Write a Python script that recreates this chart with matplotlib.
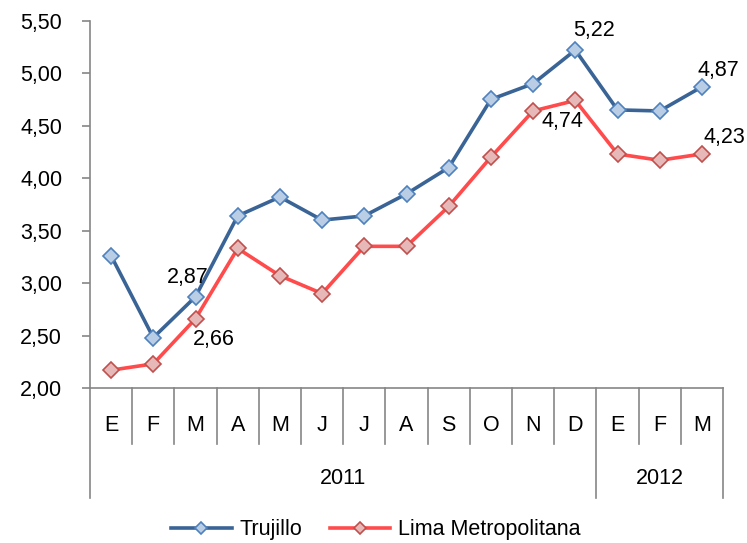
import matplotlib
matplotlib.use('Agg')
import matplotlib.pyplot as plt
import matplotlib.transforms as mtransforms
import numpy as np

meses = ['E', 'F', 'M', 'A', 'M', 'J', 'J', 'A', 'S', 'O', 'N', 'D', 'E', 'F', 'M']
anios = ['2011', '2012']
meses_por_anio = [12, 3]

trujillo = [3.26, 2.48, 2.87, 3.64, 3.82, 3.60, 3.64, 3.85, 4.10, 4.75, 4.90, 5.22, 4.65, 4.64, 4.87]
lima = [2.17, 2.23, 2.66, 3.33, 3.07, 2.90, 3.35, 3.35, 3.73, 4.20, 4.64, 4.74, 4.23, 4.17, 4.23]

yticks = [2.0, 2.5, 3.0, 3.5, 4.0, 4.5, 5.0, 5.5]

plt.rcParams['font.family'] = ['Liberation Sans', 'DejaVu Sans']
gris = '#868686'
fs = 15.5

fig = plt.figure(figsize=(7.47, 5.43), dpi=100)
ax = fig.add_axes([90 / 747, 1 - 388 / 543, (723 - 90) / 747, (388 - 20.7) / 543])

x = np.arange(len(meses))
ax.plot(x, trujillo, color='#3A6496', lw=2.6, marker='D', ms=8.5,
        mfc='#B9CDE5', mec='#4F81BD', mew=1.2, label='Trujillo', zorder=3)
ax.plot(x, lima, color='#FF4B4B', lw=2.6, marker='D', ms=8.5,
        mfc='#E6B9B8', mec='#C0504D', mew=1.2, label='Lima Metropolitana', zorder=3)

ax.set_xlim(-0.5, len(meses) - 0.5)
ax.set_ylim(2.0, 5.5)
ax.set_yticks(yticks)
ax.set_yticklabels([('%.2f' % v).replace('.', ',') for v in yticks])
ax.tick_params(axis='y', length=6, width=1.2, color=gris, pad=14, labelsize=fs)
ax.set_xticks([])

for s in ['top', 'right']:
    ax.spines[s].set_visible(False)
for s in ['left', 'bottom']:
    ax.spines[s].set_color(gris)
    ax.spines[s].set_linewidth(1.2)

# eje de categorias en dos niveles
trans = mtransforms.blended_transform_factory(ax.transData, ax.transAxes)
h = 367.6
limites = [0] + list(np.cumsum(meses_por_anio))
for i in range(len(meses) + 1):
    b = i - 0.5
    largo = (498 - 388) / h if i in limites else (444 - 388) / h
    ax.plot([b, b], [0, -largo], color=gris, lw=1.2, transform=trans, clip_on=False)

for i, m in enumerate(meses):
    ax.text(i, -(426 - 388) / h, m, transform=trans, ha='center', va='center', fontsize=fs)

for j, a in enumerate(anios):
    c = (limites[j] + limites[j + 1]) / 2 - 0.5
    ax.text(c, -(479 - 388) / h, a, transform=trans, ha='center', va='center', fontsize=fs)

# etiquetas de datos
etiquetas = [(trujillo, 2, (-8, 19)), (lima, 2, (18, -21)),
             (trujillo, 11, (19, 20)), (lima, 11, (-13, -21)),
             (trujillo, 14, (16, 16)), (lima, 14, (22, 16))]
for serie, i, off in etiquetas:
    ax.annotate(('%.2f' % serie[i]).replace('.', ','), (i, serie[i]), xytext=off,
                textcoords='offset pixels', ha='center', va='center', fontsize=fs,
                annotation_clip=False)

leg = fig.legend(loc='center', bbox_to_anchor=(0.503, 1 - 530 / 543), ncol=2, frameon=False,
                 prop={'size': 15.5}, handlelength=2.8, columnspacing=1.3,
                 handletextpad=0.35, markerscale=0.7)

fig.savefig('out.png', dpi=100)
